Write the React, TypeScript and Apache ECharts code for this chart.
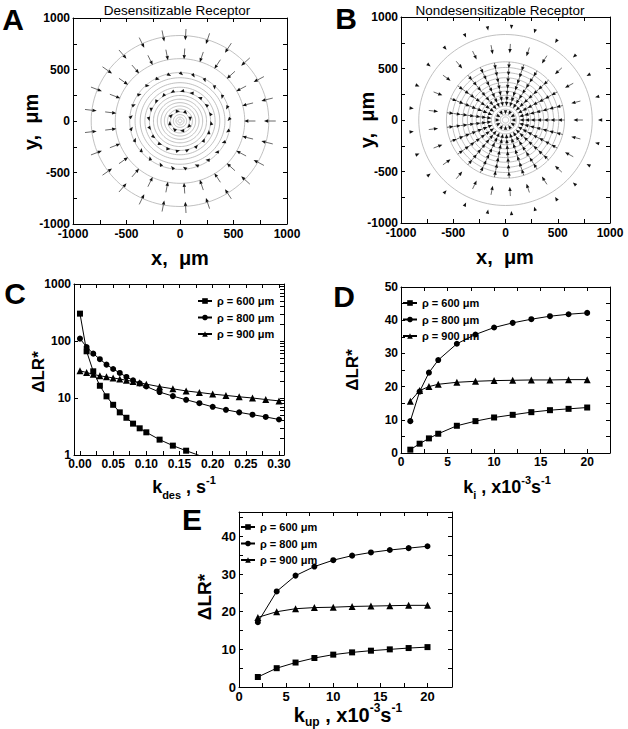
import React, { useEffect, useRef } from "react";
import * as echarts from "echarts";

const FONT = "'Liberation Sans', Arial, Helvetica, sans-serif";
const NARROW = "'Liberation Sans Narrow', 'Liberation Sans', Arial, sans-serif";

const seriesNames = ["ρ = 600 μm", "ρ = 800 μm", "ρ = 900 μm"];
const seriesSymbols = ["rect", "circle", "triangle"];
const seriesSymbolSizes = [6, 6, 7];

// ---------- Panel A: desensitizable receptor (vector field) ----------
const contourRadiiA = [830, 605, 470, 420, 372, 328, 286, 248, 212, 178, 146, 116, 88, 62, 38, 18];
const arrowHeadRA = [785, 600, 445, 285, 95];
const arrowTailRA = [895, 705, 470, 305, 115];
const arrowCountA = [25, 25, 25, 20, 8];
const arrowTwistA = [0, 0, 50, -75, 90];

// ---------- Panel B: nondesensitizable receptor (vector field) ----------
const contourRadiiB = [830, 565, 510, 460, 410, 365, 320, 280, 240, 205, 170, 135, 105, 75, 50, 30];
const arrowHeadRB = [885, 650, 500, 430, 365, 300, 240, 185, 135, 55];
const arrowTailRB = [905, 740, 565, 500, 430, 365, 300, 240, 185, 70];
const arrowCountB = [25, 25, 25, 25, 25, 25, 25, 25, 25, 12];
const arrowTwistB = [0, 0, 0, 0, 0, 0, 0, 0, 0, 0];

const ticksAB = [-1000, -750, -500, -250, 0, 250, 500, 750, 1000];
const labelsAB = [-1000, -500, 0, 500, 1000];

// ---------- Panel C ----------
const xC = [0, 0.01, 0.02, 0.03, 0.04, 0.05, 0.06, 0.07, 0.08, 0.09, 0.1, 0.12, 0.14, 0.16, 0.18, 0.2, 0.22, 0.24, 0.26, 0.28, 0.3];
const c600 = [302, 66, 29.4, 16.4, 10.7, 7.6, 5.6, 4.5, 3.55, 2.94, 2.5, 1.86, 1.46, 1.19, 0.98];
const c800 = [110, 78.5, 60, 48, 38.5, 32.3, 27.5, 23.4, 20.4, 18, 15.9, 12.7, 10.8, 9.3, 8.1, 7.0, 6.2, 5.6, 5.1, 4.65, 4.2];
const c900 = [30, 28, 26, 24.5, 23.5, 22.5, 21.5, 20.5, 19.5, 18.5, 17.5, 15.8, 14.5, 13.3, 12.5, 11.7, 11.1, 10.5, 10.0, 9.4, 8.9];
const xTicksC = [0, 0.025, 0.05, 0.075, 0.1, 0.125, 0.15, 0.175, 0.2, 0.225, 0.25, 0.275, 0.3];
const xLabelsC = [0, 0.05, 0.1, 0.15, 0.2, 0.25, 0.3];
const yLabelsC = [1, 10, 100, 1000];
const yMinorC = [1, 2, 3, 4, 5, 6, 7, 8, 9, 10, 20, 30, 40, 50, 60, 70, 80, 90, 100, 200, 300, 400, 500, 600, 700, 800, 900, 1000];

// ---------- Panel D ----------
const xD = [1, 2, 3, 4, 6, 8, 10, 12, 14, 16, 18, 20];
const d600 = [1.0, 2.8, 4.4, 5.8, 8.2, 9.6, 10.7, 11.5, 12.3, 12.9, 13.3, 13.7];
const d800 = [9.6, 18.5, 24.2, 28.0, 32.9, 35.7, 37.8, 39.2, 40.3, 41.2, 41.8, 42.2];
const d900 = [15.6, 18.8, 20.0, 20.7, 21.3, 21.6, 21.8, 21.9, 22.0, 22.0, 22.1, 22.1];
const xTicksDE = [0, 2.5, 5, 7.5, 10, 12.5, 15, 17.5, 20];
const xLabelsDE = [0, 5, 10, 15, 20];
const yTicksD = [0, 5, 10, 15, 20, 25, 30, 35, 40, 45, 50];
const yLabelsD = [0, 10, 20, 30, 40, 50];

// ---------- Panel E ----------
const xE = [2, 4, 6, 8, 10, 12, 14, 16, 18, 20];
const e600 = [2.65, 5.0, 6.5, 7.7, 8.6, 9.2, 9.65, 10.0, 10.35, 10.6];
const e800 = [17.2, 25.4, 29.6, 32.0, 33.7, 34.9, 35.75, 36.4, 36.9, 37.4];
const e900 = [18.5, 20.0, 20.8, 21.1, 21.2, 21.4, 21.5, 21.6, 21.7, 21.7];
const yTicksE = [0, 5, 10, 15, 20, 25, 30, 35, 40, 45];
const yLabelsE = [0, 10, 20, 30, 40];

function ringArrows(headR: number[], tailR: number[], counts: number[], twists: number[]) {
  const out: number[][] = [];
  headR.forEach((rh, i) => {
    const n = counts[i];
    const len = tailR[i] - rh;
    const tw = (twists[i] * Math.PI) / 180;
    for (let k = 0; k < n; k++) {
      const th = (2 * Math.PI * k) / n;
      const hx = rh * Math.cos(th);
      const hy = rh * Math.sin(th);
      const dx = -Math.cos(th + tw);
      const dy = -Math.sin(th + tw);
      out.push([hx - dx * len, hy - dy * len, hx, hy]);
    }
  });
  return out;
}

function arrowRender(_params: any, api: any) {
  const p1 = api.coord([api.value(0), api.value(1)]);
  const p2 = api.coord([api.value(2), api.value(3)]);
  const dx = p2[0] - p1[0];
  const dy = p2[1] - p1[1];
  const len = Math.hypot(dx, dy) || 1;
  const ux = dx / len;
  const uy = dy / len;
  const hl = 4.2;
  const hw = 1.7;
  const bx = p2[0] - ux * hl;
  const by = p2[1] - uy * hl;
  const children: any[] = [];
  if (len > hl) {
    children.push({
      type: "line",
      shape: { x1: p1[0], y1: p1[1], x2: bx, y2: by },
      style: { stroke: "#3a3a3a", lineWidth: 0.75 },
    });
  }
  children.push({
    type: "polygon",
    shape: { points: [[p2[0], p2[1]], [bx - uy * hw, by + ux * hw], [bx + uy * hw, by - ux * hw]] },
    style: { fill: "#111" },
  });
  return { type: "group", children };
}

function circleRender(_params: any, api: any) {
  const r = api.value(0);
  const pts: number[][] = [];
  for (let k = 0; k < 120; k++) {
    const t = (k / 120) * 2 * Math.PI;
    pts.push(api.coord([r * Math.cos(t), r * Math.sin(t)]));
  }
  return { type: "polygon", shape: { points: pts }, style: { fill: "none", stroke: "#b0b0b0", lineWidth: 0.8 } };
}

function mkAxis(o: {
  grid: number; pos: string; type?: string; min: number; max: number;
  ticks: number[]; labels?: number[]; fmt?: (v: number) => string; fontSize?: number; margin?: number;
}) {
  return {
    type: o.type || "value",
    logBase: 10,
    gridIndex: o.grid,
    position: o.pos,
    min: o.min,
    max: o.max,
    axisLine: { show: true, onZero: false, lineStyle: { color: "#000", width: 1 } },
    axisTick: { show: true, inside: true, length: 4, customValues: o.ticks, lineStyle: { color: "#000", width: 1 } },
    axisLabel: o.labels
      ? {
          show: true, customValues: o.labels, formatter: o.fmt || ((v: number) => String(v)),
          margin: o.margin ?? 3, color: "#000", fontFamily: FONT, fontWeight: "bold", fontSize: o.fontSize || 12,
        }
      : { show: false },
    splitLine: { show: false },
    minorTick: { show: false },
  };
}

function lineSeries(idx: number, grid: number, xs: number[], ys: number[]) {
  return {
    type: "line",
    name: seriesNames[idx],
    xAxisIndex: grid * 2,
    yAxisIndex: grid * 2,
    data: ys.map((y, i) => [xs[i], y]),
    symbol: seriesSymbols[idx],
    symbolSize: seriesSymbolSizes[idx],
    showSymbol: true,
    lineStyle: { color: "#000", width: 1 },
    itemStyle: { color: "#000" },
    clip: true,
    z: 3,
  };
}

function mkLegend(left: number, top: number) {
  return {
    left, top, orient: "vertical", padding: 0, itemGap: 4.5, itemWidth: 14, itemHeight: 7,
    selectedMode: false, data: seriesNames,
    textStyle: { fontFamily: FONT, fontWeight: "bold", fontSize: 11, color: "#000", lineHeight: 12 },
  };
}

function text(x: number, y: number, t: string, font: string, extra: any = {}) {
  return {
    type: "text", x, y, rotation: extra.rotation || 0,
    style: { text: t, font, fill: "#000", align: "center", verticalAlign: "middle", rich: extra.rich },
  };
}

function buildOption() {
  const grids = [
    { left: 73, top: 18, width: 214, height: 206 },
    { left: 401, top: 17, width: 209, height: 206 },
    { left: 74, top: 284, width: 210, height: 171 },
    { left: 401, top: 287, width: 209, height: 166 },
    { left: 239, top: 512, width: 213, height: 175 },
  ];
  const fmtC = (v: number) => v.toFixed(2);
  const xAxis = [
    mkAxis({ grid: 0, pos: "bottom", min: -1000, max: 1000, ticks: ticksAB, labels: labelsAB, margin: 4 }),
    mkAxis({ grid: 0, pos: "top", min: -1000, max: 1000, ticks: ticksAB }),
    mkAxis({ grid: 1, pos: "bottom", min: -1000, max: 1000, ticks: ticksAB, labels: labelsAB, margin: 4 }),
    mkAxis({ grid: 1, pos: "top", min: -1000, max: 1000, ticks: ticksAB }),
    mkAxis({ grid: 2, pos: "bottom", min: -0.009, max: 0.3075, ticks: xTicksC, labels: xLabelsC, fmt: fmtC }),
    mkAxis({ grid: 2, pos: "top", min: -0.009, max: 0.3075, ticks: xTicksC }),
    mkAxis({ grid: 3, pos: "bottom", min: 0, max: 22.45, ticks: xTicksDE, labels: xLabelsDE }),
    mkAxis({ grid: 3, pos: "top", min: 0, max: 22.45, ticks: xTicksDE }),
    mkAxis({ grid: 4, pos: "bottom", min: 0, max: 22.6, ticks: xTicksDE, labels: xLabelsDE, fontSize: 13 }),
    mkAxis({ grid: 4, pos: "top", min: 0, max: 22.6, ticks: xTicksDE }),
  ];
  const yAxis = [
    mkAxis({ grid: 0, pos: "left", min: -1000, max: 1000, ticks: ticksAB, labels: labelsAB }),
    mkAxis({ grid: 0, pos: "right", min: -1000, max: 1000, ticks: ticksAB }),
    mkAxis({ grid: 1, pos: "left", min: -1000, max: 1000, ticks: ticksAB, labels: labelsAB }),
    mkAxis({ grid: 1, pos: "right", min: -1000, max: 1000, ticks: ticksAB }),
    mkAxis({ grid: 2, pos: "left", type: "log", min: 1, max: 1000, ticks: yLabelsC, labels: yLabelsC }),
    mkAxis({ grid: 2, pos: "right", type: "log", min: 1, max: 1000, ticks: yMinorC }),
    mkAxis({ grid: 3, pos: "left", min: 0, max: 50, ticks: yTicksD, labels: yLabelsD }),
    mkAxis({ grid: 3, pos: "right", min: 0, max: 50, ticks: yTicksD }),
    mkAxis({ grid: 4, pos: "left", min: 0, max: 46.5, ticks: yTicksE, labels: yLabelsE, fontSize: 13 }),
    mkAxis({ grid: 4, pos: "right", min: 0, max: 46.5, ticks: yTicksE }),
  ];

  const fieldSeries = (grid: number, radii: number[], arrows: number[][]) => [
    {
      type: "custom", xAxisIndex: grid * 2, yAxisIndex: grid * 2, renderItem: circleRender,
      data: radii.map((r) => [r, 0]), silent: true, z: 1,
    },
    {
      type: "custom", xAxisIndex: grid * 2, yAxisIndex: grid * 2, renderItem: arrowRender,
      encode: { x: [0, 2], y: [1, 3] }, data: arrows, silent: true, z: 2,
    },
  ];

  const series: any[] = [
    ...fieldSeries(0, contourRadiiA, ringArrows(arrowHeadRA, arrowTailRA, arrowCountA, arrowTwistA)),
    ...fieldSeries(1, contourRadiiB, ringArrows(arrowHeadRB, arrowTailRB, arrowCountB, arrowTwistB)),
    lineSeries(0, 2, xC, c600),
    lineSeries(1, 2, xC, c800),
    lineSeries(2, 2, xC, c900),
    lineSeries(0, 3, xD, d600),
    lineSeries(1, 3, xD, d800),
    lineSeries(2, 3, xD, d900),
    lineSeries(0, 4, xE, e600),
    lineSeries(1, 4, xE, e800),
    lineSeries(2, 4, xE, e900),
  ];

  const bold = (s: number) => `bold ${s}px ${NARROW}`;
  const letter = `bold 30px ${FONT}`;
  const kRich = (main: number, small: number) => ({
    m: { fontFamily: NARROW, fontWeight: "bold", fontSize: main, lineHeight: 26, verticalAlign: "middle" },
    s: { fontFamily: NARROW, fontWeight: "bold", fontSize: small, lineHeight: small, verticalAlign: "bottom" },
    p: { fontFamily: NARROW, fontWeight: "bold", fontSize: small, lineHeight: small, verticalAlign: "top" },
  });

  const graphic = [
    text(13, 19, "A", letter),
    text(346, 18, "B", letter),
    text(15, 293, "C", letter),
    text(344, 296, "D", letter),
    text(192, 519, "E", letter),
    text(177, 10, "Desensitizable Receptor", `13.5px ${FONT}`),
    text(500, 10, "Nondesensitizable Receptor", `13.5px ${FONT}`),
    text(31, 122, "y,  μm", bold(20), { rotation: Math.PI / 2 }),
    text(367, 120, "y,  μm", bold(20), { rotation: Math.PI / 2 }),
    text(180, 258, "x,  μm", bold(20)),
    text(505, 257, "x,  μm", bold(20)),
    text(38, 372, "ΔLR*", bold(17), { rotation: Math.PI / 2 }),
    text(352, 370, "ΔLR*", bold(17), { rotation: Math.PI / 2 }),
    text(204, 597, "ΔLR*", bold(19), { rotation: Math.PI / 2 }),
    text(184, 487, "{m|k}{s|des}{m| , s}{p|-1}", bold(18), { rich: kRich(18, 11) }),
    text(507, 487, "{m|k}{s|i}{m| , x10}{p|-3}{m|s}{p|-1}", bold(18), { rich: kRich(18, 11) }),
    text(348, 715, "{m|k}{s|up}{m| , x10}{p|-3}{m|s}{p|-1}", bold(20), { rich: kRich(20, 12) }),
  ];

  return {
    animation: false,
    backgroundColor: "#fff",
    grid: grids,
    xAxis,
    yAxis,
    legend: [mkLegend(197, 295), mkLegend(402, 297), mkLegend(240, 521)],
    series,
    graphic,
  };
}

export default function App() {
  const ref = useRef<HTMLDivElement>(null);
  useEffect(() => {
    const chart = echarts.init(ref.current!, null, { renderer: "svg" });
    chart.setOption(buildOption() as any);
    return () => chart.dispose();
  }, []);
  return (
    <div
      ref={ref}
      style={{ position: "absolute", left: 0, top: 0, width: 628, height: 729, background: "#fff" }}
    />
  );
}
